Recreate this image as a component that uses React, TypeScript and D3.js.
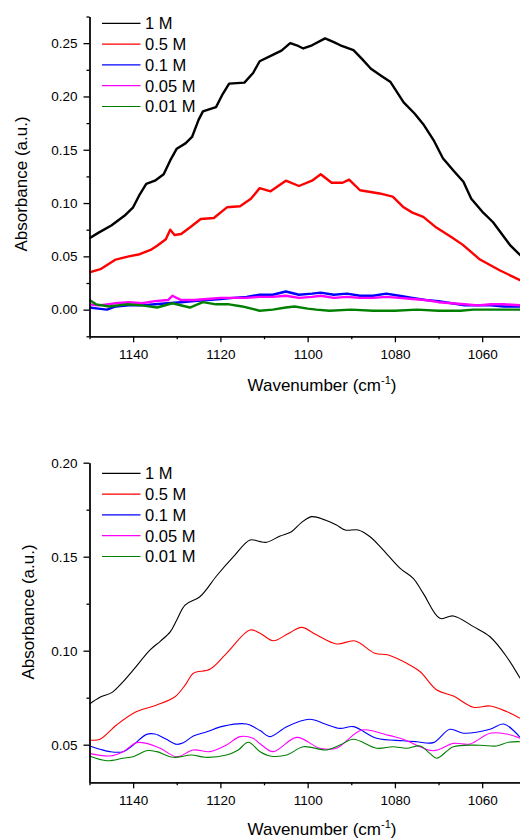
import React, { useEffect, useRef } from "react";
import * as d3 from "d3";

type Pt = [number, number];

const FONT = "'Liberation Sans', Arial, Helvetica, sans-serif";

const seriesNames = ["1 M", "0.5 M", "0.1 M", "0.05 M", "0.01 M"];
const seriesColors = ["#000000", "#ff0000", "#0000ff", "#ff00ff", "#008000"];

const xTicks = [1140, 1120, 1100, 1080, 1060];
const xMinorTicks = [1150, 1130, 1110, 1090, 1070];
const topYTicks = [0, 0.05, 0.1, 0.15, 0.2, 0.25];
const topYMinor = [-0.025, 0.025, 0.075, 0.125, 0.175, 0.225, 0.275];
const bottomYTicks = [0.05, 0.1, 0.15, 0.2];
const bottomYMinor = [0.075, 0.125, 0.175];

// top panel: raw spectra [wavenumber, absorbance]
const top1M: Pt[] = [
  [1150, 0.067], [1148, 0.072], [1145, 0.079], [1142, 0.088], [1140, 0.096],
  [1138.5, 0.108], [1137, 0.118], [1135, 0.121], [1133, 0.127], [1131.5, 0.14],
  [1130, 0.151], [1128, 0.156], [1126.5, 0.162], [1125, 0.178], [1124, 0.186],
  [1121, 0.19], [1119.5, 0.202], [1118, 0.212], [1114.5, 0.213], [1112.5, 0.222],
  [1111, 0.233], [1108, 0.239], [1106, 0.243], [1104, 0.25], [1102.5, 0.248],
  [1101, 0.245], [1099, 0.248], [1096, 0.2545], [1094, 0.251], [1092.5, 0.248],
  [1089.5, 0.2435], [1087.5, 0.235], [1085.5, 0.226], [1083, 0.219], [1081, 0.2135],
  [1078, 0.1945], [1075.5, 0.184], [1073.5, 0.174], [1071, 0.158], [1069, 0.142],
  [1066.5, 0.13], [1064.3, 0.12], [1062.5, 0.104], [1060, 0.092], [1057.5, 0.082],
  [1055.5, 0.071], [1053.5, 0.06], [1051, 0.05],
];
const top05M: Pt[] = [
  [1150, 0.035], [1147.5, 0.038], [1144, 0.047], [1141, 0.05], [1138.5, 0.052],
  [1136, 0.056], [1134.5, 0.06], [1132.5, 0.066], [1131.5, 0.075], [1130.5, 0.07],
  [1129, 0.071], [1127, 0.077], [1124.5, 0.085], [1121.5, 0.086], [1118.5, 0.096],
  [1115.5, 0.097], [1113, 0.104], [1111, 0.114], [1108.5, 0.111], [1105, 0.121],
  [1102, 0.116], [1099, 0.121], [1097, 0.127], [1094.5, 0.119], [1092, 0.119],
  [1090.5, 0.122], [1088, 0.112], [1083.5, 0.109], [1080.5, 0.106], [1078, 0.096],
  [1076, 0.091], [1073.5, 0.087], [1070.5, 0.077], [1067, 0.068], [1064.5, 0.061],
  [1060.5, 0.047], [1056, 0.037], [1051, 0.027],
];
const top01M: Pt[] = [
  [1150, 0.002], [1148, 0.001], [1146, 0.0], [1144, 0.003], [1141, 0.004],
  [1138, 0.004], [1135, 0.005], [1132, 0.006], [1129, 0.007], [1126, 0.008],
  [1123, 0.009], [1120, 0.01], [1117, 0.011], [1114, 0.012], [1111, 0.014],
  [1108, 0.014], [1105, 0.017], [1102, 0.014], [1099, 0.015], [1097, 0.016],
  [1094, 0.014], [1091, 0.015], [1088, 0.013], [1085, 0.013], [1082, 0.015],
  [1079, 0.013], [1076, 0.011], [1073, 0.009], [1070, 0.008], [1067, 0.006],
  [1064, 0.004], [1061, 0.004], [1058, 0.004], [1055, 0.003], [1051, 0.003],
];
const top005M: Pt[] = [
  [1150, 0.005], [1148, 0.004], [1146, 0.005], [1144, 0.006], [1141, 0.007],
  [1138, 0.006], [1135, 0.008], [1132, 0.009], [1131, 0.013], [1129, 0.009],
  [1126, 0.009], [1123, 0.01], [1120, 0.011], [1117, 0.011], [1114, 0.011],
  [1111, 0.012], [1108, 0.012], [1105, 0.013], [1102, 0.011], [1099, 0.012],
  [1097, 0.013], [1094, 0.011], [1091, 0.012], [1088, 0.011], [1085, 0.011],
  [1082, 0.012], [1079, 0.011], [1076, 0.01], [1073, 0.009], [1070, 0.007],
  [1067, 0.006], [1064, 0.005], [1061, 0.004], [1058, 0.005], [1055, 0.005],
  [1051, 0.004],
];
const top001M: Pt[] = [
  [1150, 0.009], [1148.5, 0.005], [1145.5, 0.003], [1141.5, 0.005], [1138, 0.004],
  [1134.5, 0.002], [1131, 0.006], [1127, 0.002], [1124, 0.007], [1121, 0.005],
  [1118, 0.005], [1115, 0.003], [1111, -0.001], [1108, 0.0], [1105, 0.002],
  [1103, 0.003], [1100, 0.001], [1098, 0.0], [1095, -0.001], [1090, 0.0],
  [1085, -0.001], [1080, -0.001], [1075, 0.0], [1070, -0.001], [1065, -0.001],
  [1062, 0.0], [1057, 0.0], [1051, 0.0],
];

// bottom panel: smoothed spectra
const bot1M: Pt[] = [
  [1150, 0.0716], [1147.6, 0.0752], [1144.9, 0.0777], [1142.5, 0.083], [1140, 0.0897],
  [1136.1, 0.1004], [1133.8, 0.105], [1131.5, 0.11], [1130, 0.1163], [1128.1, 0.1243],
  [1124.7, 0.1287], [1120.8, 0.14], [1117, 0.15], [1113.2, 0.1589], [1110.9, 0.158],
  [1109.4, 0.1577], [1106.3, 0.161], [1103.7, 0.1633], [1101.5, 0.168], [1099.1, 0.1713],
  [1096, 0.1695], [1093.5, 0.167], [1091.4, 0.1642], [1088.4, 0.1642], [1085.7, 0.1606],
  [1082.7, 0.1536], [1078.8, 0.1438], [1075.8, 0.1385], [1073.5, 0.1305], [1069.7, 0.1172],
  [1066.6, 0.1185], [1062, 0.1128], [1058.2, 0.1074], [1054.4, 0.0968], [1051.3, 0.0853],
];
const bot05M: Pt[] = [
  [1150, 0.0525], [1147.6, 0.0529], [1143.8, 0.0605], [1139.2, 0.0676], [1134.6, 0.0711],
  [1130.4, 0.0755], [1128, 0.082], [1126.2, 0.088], [1122.4, 0.0901], [1118.6, 0.0986],
  [1113.2, 0.111], [1110.9, 0.1093], [1107.9, 0.1053], [1104.5, 0.109], [1101.4, 0.1124],
  [1097.9, 0.1083], [1093.4, 0.1036], [1089.1, 0.1052], [1084.6, 0.0986], [1081.5, 0.0977],
  [1077.3, 0.0933], [1074.2, 0.0888], [1070.4, 0.0791], [1066.6, 0.0759], [1062, 0.0699],
  [1058.2, 0.0706], [1054.4, 0.0676], [1051.3, 0.064],
];
const bot01M: Pt[] = [
  [1150, 0.0493], [1147.6, 0.0476], [1145.3, 0.0463], [1142.3, 0.0463], [1140, 0.0498],
  [1136.9, 0.0555], [1135, 0.0557], [1132.5, 0.053], [1130, 0.0502], [1128.5, 0.051],
  [1126.2, 0.0546], [1123.1, 0.0569], [1119.3, 0.0599], [1114, 0.061], [1110.9, 0.0575],
  [1108.6, 0.0543], [1104.8, 0.0596], [1099.5, 0.0635], [1096, 0.061], [1092.6, 0.0587],
  [1089.5, 0.0596], [1084.2, 0.0534], [1078.1, 0.0521], [1075, 0.0516], [1071.2, 0.0511],
  [1067.4, 0.0582], [1064.3, 0.0561], [1058.2, 0.0582], [1055.1, 0.061], [1051.3, 0.0539],
];
const bot005M: Pt[] = [
  [1150, 0.0454], [1145.3, 0.044], [1142.3, 0.0463], [1139.2, 0.0511], [1136.9, 0.0507],
  [1133.8, 0.0481], [1130, 0.0436], [1126.2, 0.0472], [1122.4, 0.0463], [1118.6, 0.0498],
  [1115.5, 0.0543], [1112.5, 0.0534], [1110.9, 0.0505], [1107.9, 0.0463], [1102.5, 0.0539],
  [1097.2, 0.0481], [1093.4, 0.0481], [1087.6, 0.0578], [1081.9, 0.0552], [1078.1, 0.0529],
  [1071.2, 0.0468], [1066.6, 0.0507], [1062.8, 0.0504], [1058.2, 0.0561], [1054.4, 0.0557],
  [1051.3, 0.0534],
];
const bot001M: Pt[] = [
  [1150, 0.044], [1146, 0.0415], [1142.3, 0.0428], [1140, 0.0436], [1136.9, 0.0468],
  [1134.6, 0.0463], [1130.8, 0.0433], [1126.6, 0.0445], [1123.5, 0.0433], [1118.6, 0.0445],
  [1116, 0.047], [1113.6, 0.0513], [1110.9, 0.0463], [1108.6, 0.044], [1104.8, 0.0445],
  [1101, 0.0489], [1095.6, 0.0472], [1092.6, 0.0498], [1089.5, 0.0529], [1084.2, 0.0481],
  [1080.4, 0.0489], [1077.3, 0.0481], [1074.2, 0.0493], [1072, 0.0454], [1070.4, 0.0428],
  [1066.6, 0.0489], [1060.5, 0.0497], [1056.7, 0.0493], [1054, 0.0513], [1051.3, 0.0516],
];

const topSeries = [top1M, top05M, top01M, top005M, top001M];
const bottomSeries = [bot1M, bot05M, bot01M, bot005M, bot001M];

interface PanelCfg {
  series: Pt[][];
  yDomain: [number, number];
  yRange: [number, number];
  yTicks: number[];
  yMinor: number[];
  lineWidth: number;
  curve: d3.CurveFactory;
  legendTop: number;
  yTitleX: number;
  yTitleY: number;
  xTitleY: number;
}

function drawPanel(svg: d3.Selection<SVGSVGElement, unknown, null, undefined>, cfg: PanelCfg) {
  const x = d3.scaleLinear().domain([1150, 1050]).range([89.5, 525.8]);
  const y = d3.scaleLinear().domain(cfg.yDomain).range(cfg.yRange);
  const g = svg.append("g");
  const xAxisY = cfg.yRange[0];

  const line = d3.line<Pt>().x(d => x(d[0])).y(d => y(d[1])).curve(cfg.curve);
  cfg.series.forEach((s, i) => {
    g.append("path")
      .datum(s)
      .attr("fill", "none")
      .attr("stroke", seriesColors[i])
      .attr("stroke-width", cfg.lineWidth)
      .attr("stroke-linejoin", "round")
      .attr("d", line);
  });

  // axes
  const yMajor = g.append("g")
    .attr("transform", `translate(${x(1150)},0)`)
    .call(d3.axisLeft(y).tickValues(cfg.yTicks).tickSize(6).tickPadding(6).tickSizeOuter(0).tickFormat(d3.format(".2f")));
  const yMin = g.append("g")
    .attr("transform", `translate(${x(1150)},0)`)
    .call(d3.axisLeft(y).tickValues(cfg.yMinor).tickSize(3).tickSizeOuter(0).tickFormat(() => ""));
  const xMajor = g.append("g")
    .attr("transform", `translate(0,${xAxisY})`)
    .call(d3.axisBottom(x).tickValues(xTicks).tickSize(6).tickPadding(7).tickSizeOuter(0).tickFormat(d3.format("d")));
  const xMin = g.append("g")
    .attr("transform", `translate(0,${xAxisY})`)
    .call(d3.axisBottom(x).tickValues(xMinorTicks).tickSize(3).tickSizeOuter(0).tickFormat(() => ""));

  [yMajor, yMin, xMajor, xMin].forEach(a => {
    a.selectAll("path, line").attr("stroke", "#000").attr("stroke-width", 1.3);
    a.selectAll("text").attr("font-family", FONT).attr("font-size", 13.5).attr("fill", "#000");
  });

  // legend
  cfg.series.forEach((_, i) => {
    const ly = cfg.legendTop + i * 20.8;
    g.append("line")
      .attr("x1", 102).attr("x2", 140.5).attr("y1", ly).attr("y2", ly)
      .attr("stroke", seriesColors[i]).attr("stroke-width", 1.2);
    g.append("text")
      .attr("x", 145).attr("y", ly).attr("dy", "0.36em")
      .attr("font-family", FONT).attr("font-size", 16.5)
      .text(seriesNames[i]);
  });

  // axis titles
  g.append("text")
    .attr("transform", `translate(${cfg.yTitleX},${cfg.yTitleY}) rotate(-90)`)
    .attr("text-anchor", "middle")
    .attr("font-family", FONT).attr("font-size", 17)
    .text("Absorbance (a.u.)");

  const xt = g.append("text")
    .attr("x", 322).attr("y", cfg.xTitleY)
    .attr("text-anchor", "middle")
    .attr("font-family", FONT).attr("font-size", 17);
  xt.append("tspan").text("Wavenumber (cm");
  xt.append("tspan").attr("dy", -7).attr("font-size", 11).text("-1");
  xt.append("tspan").attr("dy", 7).text(")");
}

export default function App() {
  const ref = useRef<SVGSVGElement>(null);

  useEffect(() => {
    const svg = d3.select(ref.current as SVGSVGElement);
    svg.selectAll("*").remove();

    drawPanel(svg, {
      series: topSeries,
      yDomain: [-0.025, 0.275],
      yRange: [336.3, 16.5],
      yTicks: topYTicks,
      yMinor: topYMinor,
      lineWidth: 2.4,
      curve: d3.curveLinear,
      legendTop: 23.3,
      yTitleX: 26.5,
      yTitleY: 184,
      xTitleY: 391,
    });

    drawPanel(svg, {
      series: bottomSeries,
      yDomain: [0.03, 0.2],
      yRange: [782.3, 462.7],
      yTicks: bottomYTicks,
      yMinor: bottomYMinor,
      lineWidth: 1.1,
      curve: d3.curveCatmullRom,
      legendTop: 473.3,
      yTitleX: 34,
      yTitleY: 612,
      xTitleY: 835,
    });
  }, []);

  return (
    <svg
      ref={ref}
      width={520}
      height={840}
      style={{ position: "absolute", left: 0, top: 0, background: "#fff" }}
    />
  );
}
